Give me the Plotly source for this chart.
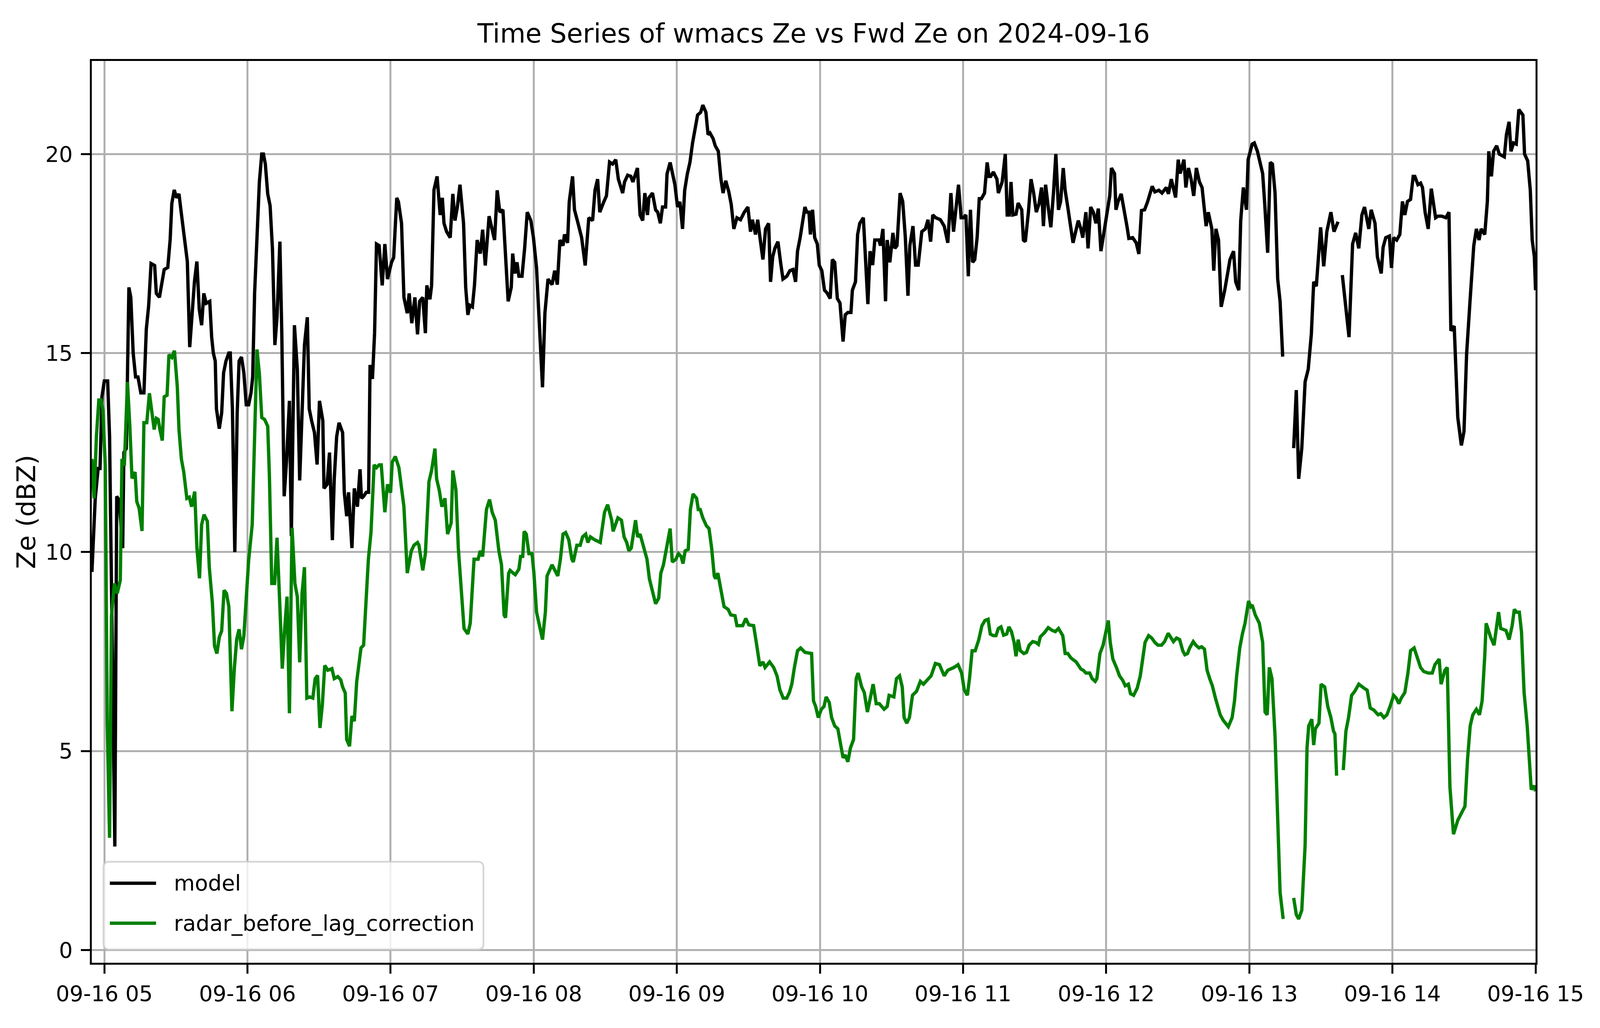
import pandas as pd
import plotly.graph_objects as go

# readings as (minutes after 05:00, Ze in dBZ); the lines break where data is missing
model_seg1 = [
    (-5.2, 9.5), (-3.8, 11.35), (-2.6, 12.1), (-1.8, 12.1), (-1.0, 13.9), (0.0, 14.3), (1.4, 14.3),
    (2.2, 12.9), (4.4, 2.6), (5.2, 11.4), (6.2, 11.3), (7.7, 10.1), (8.2, 12.5), (9.2, 12.6),
    (10.3, 16.65), (11.1, 16.4), (12.1, 15.0), (13.1, 14.4), (14.1, 14.4), (15.3, 14.0), (16.6, 14.0),
    (17.6, 15.6), (18.6, 16.2), (19.6, 17.25), (21.1, 17.2), (21.8, 16.5), (23.1, 16.4), (24.1, 16.8),
    (25.1, 17.1), (26.6, 17.15), (27.6, 17.85), (28.3, 18.76), (29.3, 19.1), (30.3, 18.9), (31.3, 19.0),
    (32.1, 18.6), (33.1, 18.1), (34.1, 17.6), (34.8, 17.3), (35.8, 15.15), (36.8, 16.1), (37.8, 16.8),
    (38.8, 17.3), (39.8, 16.1), (40.8, 15.7), (41.7, 16.5), (42.7, 16.25), (44.2, 16.3), (45.0, 15.4),
    (45.7, 15.0), (46.5, 14.8), (47.0, 13.6), (48.2, 13.1), (49.2, 13.5), (50.0, 14.5), (51.0, 14.8),
    (52.2, 15.0), (52.8, 15.0), (53.7, 13.6), (54.7, 10.0), (55.7, 13.5), (56.5, 14.8), (57.5, 14.9),
    (58.5, 14.5), (59.5, 13.7), (60.5, 13.7), (61.5, 14.0), (62.2, 14.4), (63.0, 16.5), (64.0, 17.8),
    (65.0, 19.3), (66.0, 20.0), (66.7, 20.0), (67.5, 19.75), (68.5, 19.0), (69.5, 18.7), (70.5, 17.6),
    (71.5, 15.2), (72.4, 15.9), (73.6, 17.8), (74.4, 15.5), (75.4, 11.4), (76.4, 12.3), (77.6, 13.8),
    (78.4, 10.4), (79.7, 15.7), (80.9, 14.6), (81.9, 11.8), (82.9, 13.6), (83.9, 15.2), (85.1, 15.9),
    (85.9, 13.6), (86.9, 13.3), (88.1, 13.0), (89.2, 12.2), (90.2, 13.8), (91.6, 13.3), (92.1, 11.6),
    (93.4, 11.7), (94.4, 12.5), (95.6, 10.3), (96.4, 11.85), (97.4, 12.9), (98.4, 13.25), (99.9, 13.0),
    (100.6, 11.5), (101.6, 10.9), (102.4, 11.5), (103.8, 10.1), (104.8, 11.6),
    (106.1, 11.14), (107.2, 12.08), (107.8, 11.35), (108.7, 11.4), (109.8, 11.5), (110.8, 11.5),
    (111.4, 14.7), (112.4, 14.35), (113.3, 15.5), (114.1, 17.74), (115.2, 17.7), (116.5, 16.7),
    (117.6, 17.74), (118.7, 16.86), (120.4, 17.28), (121.3, 17.4), (122.6, 18.9), (123.3, 18.8),
    (124.6, 18.26), (125.6, 16.4), (127.0, 16.0), (127.8, 16.5), (128.9, 15.75), (130.2, 16.4),
    (131.3, 15.47), (132.2, 16.3), (133.5, 16.4), (134.6, 15.5), (135.2, 16.7), (136.5, 16.35),
    (137.2, 16.7), (138.2, 19.1), (139.5, 19.44), (140.8, 18.47), (141.7, 18.9), (142.4, 18.26),
    (143.5, 18.05), (145.0, 17.9), (146.1, 19.0), (147.0, 18.33), (148.0, 18.67), (149.1, 19.23),
    (150.6, 18.26), (151.5, 16.65), (152.4, 15.96), (153.2, 16.2), (154.3, 16.16), (155.2, 16.72),
    (156.3, 17.84), (157.6, 17.5), (158.6, 18.1), (159.7, 17.2), (161.3, 18.44), (162.6, 18.05),
    (163.6, 17.84), (164.7, 19.09), (165.8, 18.54), (167.1, 18.6), (167.8, 17.77),
    (169.3, 16.3), (170.6, 16.65), (171.2, 17.5), (172.1, 17.0), (173.0, 17.28), (173.8, 16.93),
    (175.1, 16.93), (176.2, 17.63), (177.3, 18.54), (178.8, 18.33), (179.9, 17.9), (181.2, 17.14),
    (182.3, 15.89), (183.7, 14.14), (184.7, 16.0), (186.0, 16.86), (187.7, 16.72), (188.8, 17.07),
    (189.9, 16.72), (191.0, 17.84), (192.3, 17.7), (192.9, 17.98), (194.2, 17.77), (194.9, 18.8),
    (196.3, 19.44), (197.1, 18.6), (198.6, 18.26), (200.1, 17.9), (201.6, 17.2), (203.1, 18.4),
    (204.7, 18.33), (205.7, 19.09), (206.8, 19.37), (207.7, 18.54), (209.4, 18.8), (210.5, 18.95),
    (211.8, 19.8), (213.1, 19.75), (214.4, 19.86), (215.5, 19.37), (217.3, 19.02), (218.1, 19.3),
    (219.4, 19.47), (220.7, 19.44), (221.6, 19.3), (223.5, 19.65), (224.6, 18.47), (225.7, 18.33),
    (226.6, 19.02), (227.7, 18.47), (228.3, 18.9), (229.8, 19.02),
    (231.1, 18.6), (232.0, 18.54), (233.1, 18.26), (234.0, 18.67), (235.3, 18.67), (235.9, 19.5),
    (237.2, 19.79), (238.1, 19.5), (239.2, 19.23), (240.3, 18.67), (241.3, 18.8), (242.4, 18.12),
    (243.3, 19.09), (244.4, 19.5), (245.5, 19.79), (246.6, 20.28), (247.6, 20.63), (248.7, 20.98),
    (250.0, 21.05), (250.9, 21.23), (252.2, 21.05), (253.1, 20.49), (253.9, 20.53), (255.2, 20.39),
    (256.1, 20.21), (257.4, 20.07), (258.5, 19.37), (259.4, 19.02), (260.5, 19.33), (261.8, 19.05),
    (262.8, 18.74), (263.9, 18.12), (265.2, 18.4), (266.7, 18.35), (268.3, 18.54), (269.8, 18.67),
    (270.9, 18.05), (271.7, 18.35), (273.0, 17.98), (273.9, 18.35), (275.0, 17.84), (276.1, 17.35),
    (277.2, 18.12), (278.5, 18.26), (279.3, 16.79), (280.2, 17.42), (281.1, 17.63), (282.4, 17.8),
    (283.5, 17.28), (284.5, 16.86), (286.1, 16.93), (287.4, 17.07), (288.7, 17.1), (289.8, 16.79),
    (290.6, 17.56), (291.7, 17.9),
    (293.7, 18.67), (294.5, 18.54), (295.4, 18.54), (296.0, 17.98), (296.9, 18.6), (297.8, 17.9),
    (298.9, 17.74), (299.7, 17.21), (300.8, 17.07), (301.9, 16.58), (303.0, 16.51), (304.3, 16.37),
    (305.2, 17.35), (306.2, 17.28), (307.3, 16.37), (308.4, 16.26), (309.7, 15.29), (310.6, 15.96),
    (311.7, 16.02), (313.0, 16.02), (313.6, 16.58), (314.9, 16.79), (315.8, 17.98), (316.7, 18.26),
    (318.2, 18.4), (320.1, 16.23), (321.0, 17.56), (322.1, 17.21), (323.0, 17.84), (324.7, 17.84),
    (325.4, 17.7), (326.4, 18.12), (327.5, 16.3), (328.2, 17.84), (329.3, 17.28), (330.6, 18.02),
    (331.4, 17.63), (332.3, 17.7), (333.6, 19.02), (334.7, 18.81), (335.8, 17.91), (336.9, 16.44),
    (337.7, 17.7), (339.0, 18.19), (340.1, 17.21), (341.2, 17.21), (342.7, 18.05), (344.2, 18.12),
    (345.3, 18.35), (346.4, 17.8), (347.3, 18.47), (348.6, 18.4), (350.5, 18.35), (352.1, 18.19),
    (353.6, 17.77), (354.9, 19.02), (356.0, 18.05),
    (358.1, 19.23), (359.2, 18.4), (360.1, 18.4), (361.2, 18.47), (362.2, 16.93), (363.1, 18.6),
    (364.0, 17.28), (364.9, 17.35), (365.9, 17.9), (366.8, 18.88), (367.7, 18.88), (369.0, 19.02),
    (370.1, 19.79), (370.9, 19.44), (371.6, 19.44), (372.7, 19.55), (374.2, 19.37), (374.8, 19.02),
    (376.4, 19.3), (377.7, 20.0), (378.5, 18.47), (379.4, 18.47), (380.1, 19.3), (380.9, 18.47),
    (382.2, 18.49), (383.1, 18.77), (384.6, 18.6), (385.3, 17.84), (386.1, 17.8), (387.4, 18.54),
    (388.5, 19.37), (389.6, 19.02), (390.7, 18.54), (391.8, 18.74), (392.9, 19.16), (393.7, 18.19),
    (394.6, 19.23), (395.7, 18.67), (396.8, 18.16), (397.9, 19.02), (398.9, 20.0), (400.0, 18.6),
    (400.9, 18.81), (402.0, 19.65), (402.8, 19.09), (403.9, 18.67), (405.0, 18.26), (406.1, 17.77),
    (407.2, 18.05), (408.3, 18.33), (409.4, 18.12), (410.2, 17.9), (411.5, 18.54), (412.4, 17.63),
    (413.5, 18.67), (414.6, 18.54), (415.7, 18.26), (416.7, 18.63), (417.8, 17.56),
    (419.6, 18.19), (420.4, 18.54), (421.5, 18.95), (422.2, 19.65), (423.5, 19.51), (424.1, 18.6),
    (425.0, 18.81), (426.3, 19.0), (427.6, 18.6), (428.7, 18.19), (429.5, 17.88), (431.1, 17.9),
    (432.6, 17.77), (433.7, 17.49), (434.8, 18.58), (436.1, 18.6), (437.4, 18.81), (438.4, 19.02),
    (439.3, 19.19), (440.4, 19.05), (442.1, 19.09), (443.4, 19.02), (444.5, 19.09), (445.2, 19.16),
    (446.1, 19.0), (447.3, 19.37), (449.1, 18.91), (450.2, 19.86), (451.0, 19.51), (452.6, 19.86),
    (453.4, 19.16), (454.5, 19.65), (455.6, 19.37), (456.7, 18.95), (457.8, 19.65), (459.1, 19.3),
    (460.2, 19.16), (461.0, 18.74), (461.9, 18.19), (462.8, 18.54), (464.3, 18.12), (465.1, 17.07),
    (466.0, 18.12), (467.1, 17.84), (468.2, 16.16), (469.7, 16.58), (471.9, 17.35), (473.4, 17.56),
    (474.3, 16.79), (475.6, 16.58), (476.4, 18.33), (477.5, 19.16), (478.8, 18.6), (479.5, 19.86),
    (480.4, 20.11),
    (481.2, 20.25), (482.1, 20.28), (483.4, 20.07), (484.5, 19.79), (485.6, 19.51), (486.4, 18.81),
    (487.7, 17.52), (488.8, 19.79), (489.7, 19.75), (490.8, 19.02), (491.9, 16.86), (492.9, 16.3),
    (494.0, 14.91),
]
model_seg2 = [
    (498.6, 12.61), (499.7, 14.07), (500.7, 11.84), (502.0, 12.61), (503.4, 14.28), (504.7, 14.59),
    (506.0, 15.47), (507.0, 16.79), (508.1, 16.68), (509.9, 18.16), (511.2, 17.18), (512.5, 18.05),
    (514.2, 18.54), (515.5, 18.05), (517.2, 18.3),
]
model_seg3 = [
    (519.0, 16.96), (520.3, 16.26), (521.8, 15.4), (523.3, 17.74), (524.6, 18.02), (525.9, 17.63),
    (527.2, 18.47), (528.3, 18.67), (530.1, 18.12), (531.1, 18.6), (532.7, 18.26), (533.7, 17.42),
    (535.3, 17.0), (536.1, 17.66), (537.2, 17.9), (538.7, 17.94), (539.6, 17.14), (540.5, 17.9),
    (541.8, 17.84), (543.1, 17.98),
    (544.2, 18.81), (545.2, 18.47), (546.3, 18.81), (547.6, 18.86), (548.7, 19.44), (549.4, 19.44),
    (550.7, 19.23), (551.8, 19.27), (552.6, 19.16), (553.7, 18.54), (555.0, 18.12), (556.3, 19.13),
    (558.1, 18.4), (559.1, 18.44), (560.7, 18.44), (562.4, 18.4), (563.7, 18.54), (564.5, 15.56),
    (565.9, 15.68), (567.4, 13.38), (568.9, 12.68), (570.0, 13.03), (571.1, 14.98), (572.6, 16.37),
    (574.1, 17.7), (575.2, 18.12), (576.3, 17.84), (577.2, 18.12), (578.7, 17.98), (579.8, 18.81),
    (580.4, 20.07), (581.5, 19.44), (582.4, 20.07), (583.7, 20.21), (584.8, 20.0), (586.9, 19.93),
    (587.8, 20.49), (588.9, 20.81), (589.7, 20.07), (590.8, 20.28), (591.9, 20.25), (593.0, 21.12),
    (594.7, 20.98), (595.4, 20.0), (596.7, 19.83), (597.8, 19.09), (598.6, 17.84), (599.5, 17.42),
    (600.0, 16.58),
]

radar_seg1 = [
    (-5.2, 12.34), (-4.3, 11.35), (-3.3, 12.92), (-2.3, 13.82), (-1.3, 13.82), (-0.6, 13.57),
    (0.4, 12.17), (1.2, 5.75), (2.2, 2.82), (3.0, 8.39), (4.2, 9.21), (5.4, 8.96), (6.7, 9.29),
    (7.4, 12.34), (8.4, 12.17), (9.7, 14.27), (10.7, 13.16), (11.6, 11.85), (12.9, 12.01), (13.6, 11.27),
    (14.6, 11.1), (15.8, 10.53), (16.6, 13.25), (17.8, 13.25), (18.9, 13.99), (19.8, 13.57), (20.9, 13.08),
    (21.8, 13.36), (22.6, 13.33), (23.3, 13.08), (24.3, 12.8), (25.1, 13.9), (26.3, 13.94), (27.1, 14.96),
    (28.3, 14.89), (29.4, 15.06), (30.6, 14.15), (31.3, 13.08), (32.3, 12.34), (33.3, 12.01), (34.6, 11.35),
    (35.6, 11.38), (36.6, 11.14), (37.9, 11.52), (38.8, 10.12), (39.9, 9.34), (40.8, 10.69), (41.8, 10.94),
    (43.2, 10.77), (44.0, 9.62), (45.3, 8.72), (46.2, 7.64), (47.2, 7.45), (48.2, 7.86), (49.2, 8.02),
    (50.2, 9.04), (51.2, 8.96), (52.2, 8.63), (53.5, 6.0), (54.5, 7.07), (55.5, 7.81), (56.5, 8.06),
    (57.5, 7.56), (58.5, 7.89), (59.7, 9.04), (60.5, 9.79), (62.0, 10.69), (62.8, 12.67), (64.0, 15.09),
    (65.0, 14.48), (66.0, 13.38), (67.2, 13.33), (68.5, 13.16), (69.2, 11.93), (70.2, 9.21), (71.4, 9.21),
    (72.4, 10.36), (73.6, 8.63), (74.6, 7.07), (75.6, 8.06), (76.6, 8.88), (77.6, 5.95), (78.7, 10.61),
    (79.9, 9.21), (80.9, 8.88), (81.9, 7.23), (82.9, 8.96), (83.9, 9.62), (84.9, 6.33), (86.1, 6.36),
    (87.4, 6.33), (88.4, 6.82), (89.4, 6.9), (90.4, 5.58), (91.4, 6.16), (92.4, 7.15), (93.7, 7.03),
    (95.4, 7.07), (96.4, 6.82), (97.9, 6.87), (99.1, 6.79), (99.9, 6.61), (101.0, 6.46), (101.6, 5.29),
    (102.8, 5.12), (103.8, 5.88), (104.8, 5.75), (105.8, 6.74),
    (107.6, 7.59), (108.7, 7.66), (110.7, 9.82), (111.8, 10.5), (113.1, 12.19), (114.1, 12.12),
    (115.2, 12.19), (116.1, 12.19), (117.6, 11.0), (118.7, 11.7), (120.0, 11.49), (120.7, 12.26),
    (122.0, 12.4), (123.5, 12.12), (124.6, 11.56), (125.6, 11.14), (127.0, 9.47), (128.7, 10.03),
    (129.8, 10.17), (131.3, 10.24), (131.9, 10.17), (133.5, 9.54), (134.6, 9.96), (136.1, 11.77),
    (137.2, 12.05), (138.6, 12.6), (139.3, 11.84), (140.4, 11.56), (141.5, 11.14), (142.8, 11.35),
    (143.9, 10.45), (145.4, 10.73), (146.1, 12.05), (147.4, 11.56), (148.4, 10.1), (149.5, 9.26),
    (150.8, 8.08), (152.4, 7.94), (153.4, 8.21), (155.0, 9.82), (156.7, 9.82), (157.6, 10.03),
    (158.6, 9.89), (160.2, 11.07), (161.5, 11.32), (162.6, 11.0), (163.9, 10.8), (165.4, 10.03),
    (166.5, 9.68), (167.6, 8.42), (168.2, 8.35),
    (169.5, 9.47), (170.1, 9.54), (171.4, 9.47), (172.3, 9.43), (173.8, 9.57), (174.5, 9.89),
    (175.4, 9.89), (176.0, 10.52), (176.9, 10.45), (178.0, 9.96), (179.3, 9.96), (180.1, 9.47),
    (181.2, 8.49), (182.3, 8.15), (183.7, 7.8), (184.9, 8.49), (185.6, 9.4), (187.7, 9.68),
    (190.1, 9.4), (191.2, 9.82), (192.3, 10.45), (193.4, 10.49), (194.7, 10.31), (196.0, 9.82),
    (196.6, 9.75), (198.1, 10.17), (199.5, 10.17), (200.5, 10.38), (201.8, 10.45), (202.7, 10.24),
    (203.8, 10.38), (205.5, 10.31), (207.9, 10.24), (209.7, 11.0), (211.0, 11.19), (212.7, 10.8),
    (213.3, 10.52), (215.3, 10.86), (216.8, 10.8), (217.9, 10.38), (219.0, 10.24), (219.9, 10.03),
    (220.9, 10.1), (222.7, 10.8), (223.6, 10.38), (224.6, 10.45), (227.5, 9.82), (228.5, 9.33),
    (231.1, 8.7), (232.4, 8.84), (233.3, 9.47), (234.4, 9.68), (235.9, 10.17), (237.2, 10.59),
    (238.1, 9.75), (239.6, 9.82), (240.7, 9.96), (241.8, 9.89), (242.6, 9.71), (243.5, 10.03),
    (244.8, 10.07), (245.7, 11.07), (246.8, 11.46), (248.3, 11.35), (249.0, 11.07), (249.8, 11.07),
    (250.9, 10.86), (252.4, 10.66), (253.5, 10.59), (254.6, 10.1), (255.7, 9.4), (256.3, 9.33),
    (257.2, 9.47), (258.3, 9.12), (259.8, 8.63), (261.5, 8.56), (262.6, 8.42), (264.4, 8.4),
    (265.2, 8.15), (267.6, 8.15), (268.9, 8.33), (270.2, 8.17), (272.2, 8.15), (273.5, 7.66),
    (274.8, 7.14), (276.1, 7.24), (277.0, 7.1), (278.9, 7.24), (280.6, 7.1), (282.0, 6.89),
    (283.2, 6.54), (284.6, 6.33), (286.1, 6.33), (287.2, 6.47), (288.2, 6.68), (289.3, 7.1),
    (290.6, 7.52), (291.9, 7.59),
    (293.7, 7.48), (296.5, 7.45), (297.3, 6.26), (298.2, 6.12), (299.3, 5.84), (300.6, 6.05),
    (301.7, 6.12), (302.6, 6.36), (303.9, 6.22), (304.9, 5.84), (306.2, 5.63), (307.5, 5.56),
    (308.6, 5.15), (309.7, 4.83), (310.6, 4.9), (311.7, 4.73), (312.8, 5.08), (314.1, 5.29),
    (315.2, 6.82), (316.0, 6.96), (317.5, 6.61), (318.6, 6.47), (319.9, 5.98), (321.0, 6.33),
    (322.3, 6.68), (323.6, 6.19), (324.9, 6.19), (326.9, 6.05), (328.2, 6.12), (329.0, 6.4),
    (331.0, 6.36), (332.1, 6.82), (333.4, 6.89), (334.5, 6.61), (335.3, 5.84), (336.4, 5.7),
    (337.5, 5.84), (338.8, 6.4), (340.5, 6.5), (342.1, 6.75), (343.4, 6.68), (344.9, 6.78),
    (346.6, 6.89), (348.4, 7.2), (350.1, 7.17), (352.1, 6.89), (353.6, 7.03),
    (356.2, 7.1), (357.9, 7.17), (359.4, 6.96), (360.5, 6.54), (361.8, 6.4), (362.7, 6.82),
    (363.8, 7.52), (365.1, 7.52), (366.6, 7.8), (367.9, 8.15), (369.2, 8.28), (370.5, 8.31),
    (371.4, 7.94), (372.7, 7.9), (373.8, 7.9), (374.8, 8.08), (375.9, 8.12), (377.0, 7.91),
    (378.3, 7.94), (379.2, 8.12), (380.3, 8.0), (381.4, 7.73), (382.2, 7.38), (383.1, 7.8),
    (384.0, 7.52), (385.5, 7.45), (386.6, 7.48), (387.7, 7.66), (389.2, 7.75), (390.5, 7.73),
    (391.6, 7.68), (392.4, 7.87), (394.2, 7.98), (395.7, 8.1), (397.4, 8.03), (398.7, 8.0),
    (400.0, 8.08), (401.8, 7.9), (402.8, 7.45), (403.9, 7.45), (405.2, 7.34), (407.4, 7.24),
    (409.4, 7.06), (410.4, 7.03), (411.5, 6.96), (413.1, 6.96), (414.1, 6.82), (415.4, 6.75),
    (416.1, 6.82), (417.4, 7.45),
    (418.7, 7.66), (419.8, 8.0), (420.9, 8.28), (421.7, 7.73), (422.8, 7.31), (424.3, 7.1),
    (425.6, 6.89), (426.9, 6.78), (428.0, 6.64), (429.3, 6.68), (430.2, 6.44), (431.5, 6.4),
    (433.0, 6.58), (434.3, 6.89), (435.2, 7.31), (436.3, 7.73), (437.8, 7.9), (439.1, 7.84),
    (440.4, 7.73), (441.7, 7.66), (443.2, 7.66), (444.5, 7.75), (446.0, 7.96), (448.2, 7.75),
    (449.5, 7.84), (450.8, 7.8), (452.1, 7.52), (453.0, 7.42), (454.1, 7.45), (455.0, 7.59),
    (456.5, 7.75), (457.6, 7.66), (458.9, 7.59), (460.0, 7.62), (461.2, 7.56), (462.3, 7.03),
    (463.4, 6.82), (464.5, 6.64), (465.8, 6.33), (467.8, 5.91), (469.1, 5.77), (471.2, 5.61),
    (472.8, 5.84), (473.8, 6.26), (474.7, 6.89), (476.0, 7.59), (477.1, 7.94), (478.2, 8.21),
    (479.7, 8.77), (480.6, 8.63),
    (481.2, 8.67), (482.5, 8.42), (484.2, 8.21), (485.6, 7.73), (486.6, 5.98), (487.5, 5.91),
    (488.4, 7.1), (489.5, 6.82), (490.8, 5.36), (491.6, 3.68), (492.9, 1.45), (494.2, 0.78),
]
radar_seg2 = [
    (498.6, 1.31), (499.7, 0.89), (500.7, 0.78), (502.0, 1.0), (503.4, 2.64), (504.2, 5.08),
    (504.9, 5.63), (506.2, 5.8), (507.0, 5.15), (507.7, 5.56), (509.2, 5.7), (510.1, 6.68),
    (511.6, 6.61), (512.9, 6.12), (514.2, 5.84), (515.3, 5.5), (515.9, 5.43), (516.6, 4.38),
]
radar_seg3 = [
    (519.4, 4.52), (520.5, 5.5), (521.6, 5.84), (522.9, 6.4), (524.2, 6.5), (525.9, 6.68),
    (528.1, 6.58), (529.4, 6.53), (530.7, 6.08), (532.2, 6.03), (534.0, 5.91), (535.1, 5.94),
    (536.4, 5.84), (537.7, 5.91), (539.0, 6.12), (540.5, 6.4), (541.6, 6.33), (542.7, 6.19),
    (543.7, 6.33), (545.2, 6.47), (546.5, 6.96), (547.6, 7.52), (549.1, 7.59), (550.7, 7.28),
    (551.8, 7.1), (553.1, 7.0), (555.0, 6.96), (556.7, 6.96), (557.8, 7.17), (559.6, 7.31),
    (560.4, 6.68), (562.0, 7.03), (563.0, 7.1), (564.1, 4.1), (565.6, 2.91), (567.4, 3.26),
    (569.3, 3.47), (570.4, 3.61), (571.5, 4.8), (572.6, 5.63), (573.7, 5.91), (575.2, 6.05),
    (576.5, 5.91), (577.6, 6.26), (578.7, 7.38), (579.3, 8.21), (581.1, 7.87), (582.6, 7.66),
    (584.5, 8.49), (585.4, 8.08), (587.6, 8.03), (588.9, 7.8), (590.2, 8.15), (591.1, 8.56),
    (592.0, 8.49), (593.2, 8.49), (594.1, 8.0), (595.2, 6.47), (596.5, 5.63), (597.6, 4.66),
    (598.2, 4.03), (599.3, 4.13), (600.0, 3.99),
]

series_names = ["model", "radar_before_lag_correction"]
series_colors = ["black", "green"]
y_ticks = [0, 5, 10, 15, 20]

START = pd.Timestamp("2024-09-16 05:00:00")

# the browser window is 4096 px wide, so the 5150 px wide layout is squeezed horizontally
W, H = 4096, 2631
KX = W / 5150
FONT = 0.8


def to_xy(*segments):
    xs, ys = [], []
    for i, seg in enumerate(segments):
        if i > 0:
            # missing minutes -> break in the line
            xs.append(xs[-1] + pd.Timedelta(minutes=1))
            ys.append(None)
        for minute, ze in seg:
            xs.append(START + pd.Timedelta(minutes=minute))
            ys.append(ze)
    return xs, ys


model_x, model_y = to_xy(model_seg1, model_seg2, model_seg3)
radar_x, radar_y = to_xy(radar_seg1, radar_seg2, radar_seg3)

fig = go.Figure()
fig.add_trace(go.Scatter(x=model_x, y=model_y, mode="lines", name=series_names[0],
                         line=dict(color=series_colors[0], width=8.5)))
fig.add_trace(go.Scatter(x=radar_x, y=radar_y, mode="lines", name=series_names[1],
                         line=dict(color=series_colors[1], width=8.5)))

axis_style = dict(
    showgrid=True, gridcolor="#b0b0b0", gridwidth=4.5,
    showline=True, linecolor="black", linewidth=4.5, mirror=True,
    ticks="outside", ticklen=23, tickwidth=4.5, tickcolor="black",
    zeroline=False, tickfont=dict(size=69 * FONT, color="black"),
)

fig.update_layout(
    width=W, height=H,
    margin=dict(l=round(295 * KX), r=round(207 * KX), t=156, b=167, pad=0),
    paper_bgcolor="white", plot_bgcolor="white",
    font=dict(family="DejaVu Sans", color="black", size=69 * FONT),
    showlegend=False,
    title=dict(text="Time Series of wmacs Ze vs Fwd Ze on 2024-09-16",
               x=0.5, xref="paper", xanchor="center",
               y=1 - 85 / H, yref="container", yanchor="middle",
               font=dict(size=84 * FONT, color="black")),
    xaxis=dict(type="date",
               range=[START - pd.Timedelta(minutes=5.25), START + pd.Timedelta(minutes=600)],
               tickformat="%m-%d %H", dtick=3600000, tick0=START,
               ticklabelstandoff=4, **axis_style),
    yaxis=dict(range=[-0.32, 22.34], tickvals=y_ticks, ticktext=[str(v) for v in y_ticks],
               ticklabelstandoff=10, **axis_style),
)

# y axis label
fig.add_annotation(text="Ze (dBZ)", xref="paper", yref="paper", x=-0.0454, y=0.5,
                   xanchor="center", yanchor="middle", textangle=-90, showarrow=False,
                   font=dict(size=83 * FONT, color="black"))

# legend box drawn like matplotlib's (rounded frame, long line samples)
x0, x1, y0, y1 = 0.0081, 0.2713, 0.0147, 0.1120
rx, ry = 0.004, 0.0065
frame = (f"M {x0 + rx},{y0} L {x1 - rx},{y0} Q {x1},{y0} {x1},{y0 + ry} "
         f"L {x1},{y1 - ry} Q {x1},{y1} {x1 - rx},{y1} L {x0 + rx},{y1} "
         f"Q {x0},{y1} {x0},{y1 - ry} L {x0},{y0 + ry} Q {x0},{y0} {x0 + rx},{y0} Z")
fig.add_shape(type="path", path=frame, xref="paper", yref="paper", layer="above",
              fillcolor="rgba(255,255,255,0.8)", line=dict(color="rgba(204,204,204,0.8)", width=4.5))
for name, color, ly in zip(series_names, series_colors, [0.0882, 0.0439]):
    fig.add_shape(type="line", xref="paper", yref="paper", layer="above",
                  x0=0.0125, x1=0.0445, y0=ly, y1=ly, line=dict(color=color, width=8.5))
    fig.add_annotation(text=name, xref="paper", yref="paper", x=0.0562, y=ly,
                       xanchor="left", yanchor="middle", showarrow=False,
                       font=dict(size=69 * FONT, color="black"))

fig.write_html("out.html", config={"displayModeBar": False},
               post_script="document.body.style.margin='0';")
